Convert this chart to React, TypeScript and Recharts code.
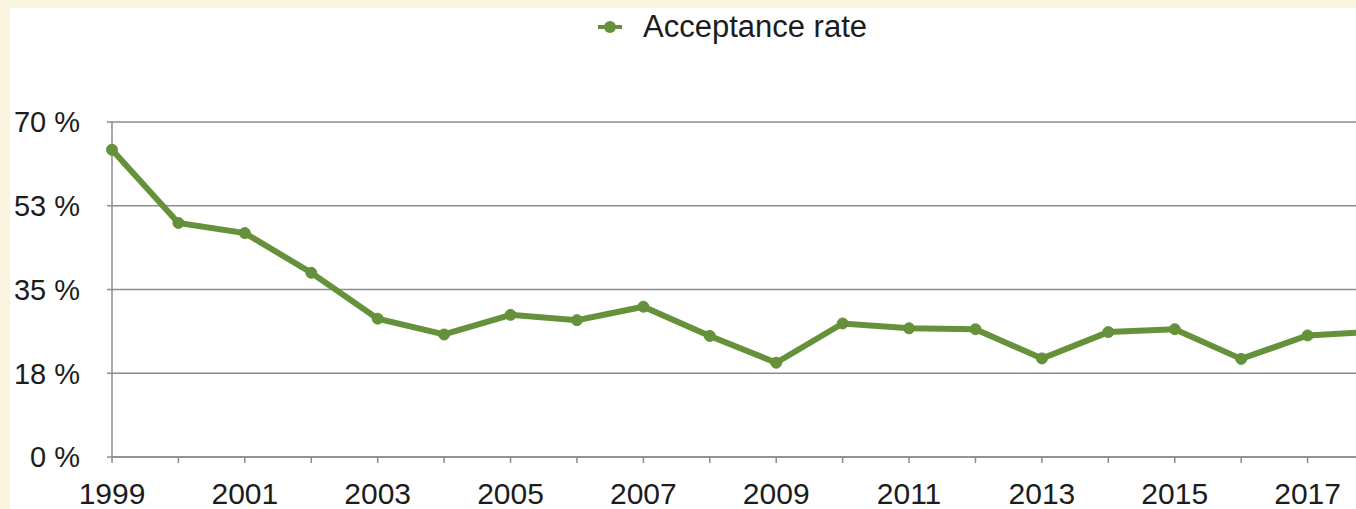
import { CartesianGrid, Legend, Line, LineChart, XAxis, YAxis } from "recharts"

const years = [
    "1999", "2000", "2001", "2002", "2003", "2004", "2005", "2006", "2007", "2008",
    "2009", "2010", "2011", "2012", "2013", "2014", "2015", "2016", "2017", "2018",
]
const acceptanceRate = [
    64.2, 48.9, 46.8, 38.5, 28.9, 25.6, 29.7, 28.6, 31.4, 25.3,
    19.7, 27.9, 26.9, 26.7, 20.6, 26.1, 26.7, 20.5, 25.4, 26.2,
]
const yTicks = [0, 17.5, 35, 52.5, 70]

const data = years.map((year, i) => ({ year, rate: acceptanceRate[i] }))

const GREEN = "#64913a"
const FONT = "'Liberation Sans', Arial, Helvetica, sans-serif"

function YearTick({ x, y, payload, index }: any) {
    if (index % 2 !== 0) return null
    return (
        <text x={x} y={y} dy="0.71em" textAnchor="middle" fontSize={30} fontFamily={FONT} fill="#1c1c1c">
            {payload.value}
        </text>
    )
}

function LegendContent() {
    return (
        <div style={{ height: 114, position: "relative", fontFamily: FONT }}>
            <div style={{ position: "absolute", left: 598, top: 0, display: "flex", alignItems: "center", height: 38 }}>
                <svg width={24} height={14}>
                    <line x1={0} y1={7} x2={24} y2={7} stroke={GREEN} strokeWidth={4} />
                    <circle cx={12} cy={7} r={6} fill={GREEN} />
                </svg>
                <span style={{ marginLeft: 21, fontSize: 31, color: "#1c1c1c", whiteSpace: "nowrap" }}>Acceptance rate</span>
            </div>
        </div>
    )
}

export default function App() {
    return (
        <div style={{ position: "fixed", left: 0, top: 0, width: 1356, height: 509, overflow: "hidden", background: "#faf3de" }}>
            <div style={{ position: "absolute", left: 10, top: 8, right: 0, bottom: 0, background: "#ffffff" }} />
            <div style={{ position: "absolute", left: 0, top: 0 }}>
                <LineChart width={1400} height={509} data={data} margin={{ top: 8, right: 26, left: 0, bottom: 0 }}>
                    <CartesianGrid vertical={false} stroke="#8c8c8c" strokeWidth={1.5} />
                    <Legend verticalAlign="top" align="left" content={() => <LegendContent />} />
                    <XAxis
                        dataKey="year"
                        interval={0}
                        height={52}
                        tickSize={6}
                        tickMargin={20}
                        stroke="#8c8c8c"
                        strokeWidth={1.5}
                        tick={<YearTick />}
                    />
                    <YAxis
                        width={112}
                        domain={[0, 70]}
                        ticks={yTicks}
                        tickSize={5}
                        tickMargin={27}
                        stroke="#8c8c8c"
                        strokeWidth={1.5}
                        tick={{ fill: "#1c1c1c", fontSize: 29, fontFamily: FONT }}
                        tickFormatter={(v: number) => `${Math.round(v)} %`}
                    />
                    <Line
                        dataKey="rate"
                        stroke={GREEN}
                        strokeWidth={6}
                        dot={{ r: 5.5, fill: GREEN, stroke: GREEN, strokeWidth: 1 }}
                        isAnimationActive={false}
                    />
                </LineChart>
            </div>
        </div>
    )
}
